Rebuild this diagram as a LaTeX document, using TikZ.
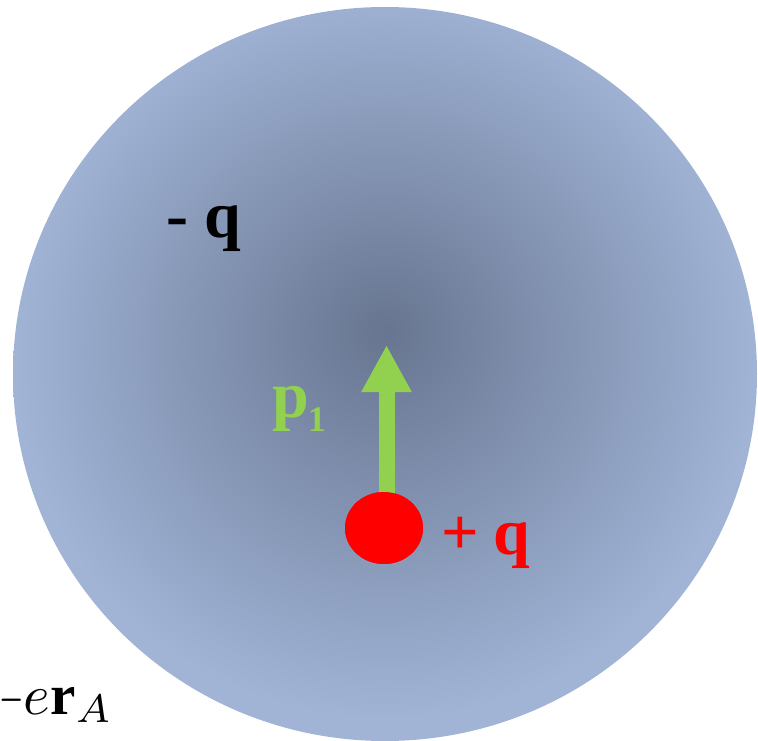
\documentclass[tikz,border=0pt]{standalone}
\usepackage{graphicx}
\usepackage{fontspec}
\setmainfont{Liberation Serif}
\usetikzlibrary{arrows.meta,shapes.geometric}
\definecolor{ballin}{RGB}{103,117,144}
\definecolor{ballout}{RGB}{161,180,214}
\definecolor{dipgreen}{RGB}{146,208,80}
\definecolor{chargered}{RGB}{255,0,0}
\pgfdeclareradialshading{cloud}{\pgfpoint{0bp}{3bp}}{color(0bp)=(ballin); color(25bp)=(ballout); color(50bp)=(ballout)}
\tikzset{
  biglabel/.style={font=\bfseries\fontsize{66}{70}\selectfont, inner sep=0pt, anchor=base west},
  dipole/.style={draw=dipgreen, line width=16pt, -{Triangle[width=47pt,length=47pt]}},
  charge/.style={ellipse, fill=chargered, minimum width=78pt, minimum height=72pt, inner sep=0pt}
}
\begin{document}
\begin{tikzpicture}[x=1pt,y=-1pt]
\useasboundingbox (0,0) rectangle (758,741);
\shade[shading=cloud] (385,374) ellipse [x radius=372, y radius=367];
\node[charge] (dot) at (384,528) {};
\coordinate (ptip) at (386.5,345);
\draw[dipole] (dot.center -| ptip) -- (ptip);
\node[charge] at (dot.center) {};
\node[biglabel, text=black] (negq) at (166,237) {- q};
\node[biglabel, text=dipgreen] (plab) at (272,417) {p\kern-1pt\raisebox{-14pt}{\fontsize{36}{40}\selectfont 1}};
\node[biglabel, text=chargered] (posq) at (441,554) {+\kern-2pt{} q};
\node[inner sep=0pt, anchor=base west, scale=5.7] (era) at (-1.6,714) {$\hbox{\scalebox{0.55}[1]{$-$}}e\mathbf{r}_A$};
\end{tikzpicture}
\end{document}
